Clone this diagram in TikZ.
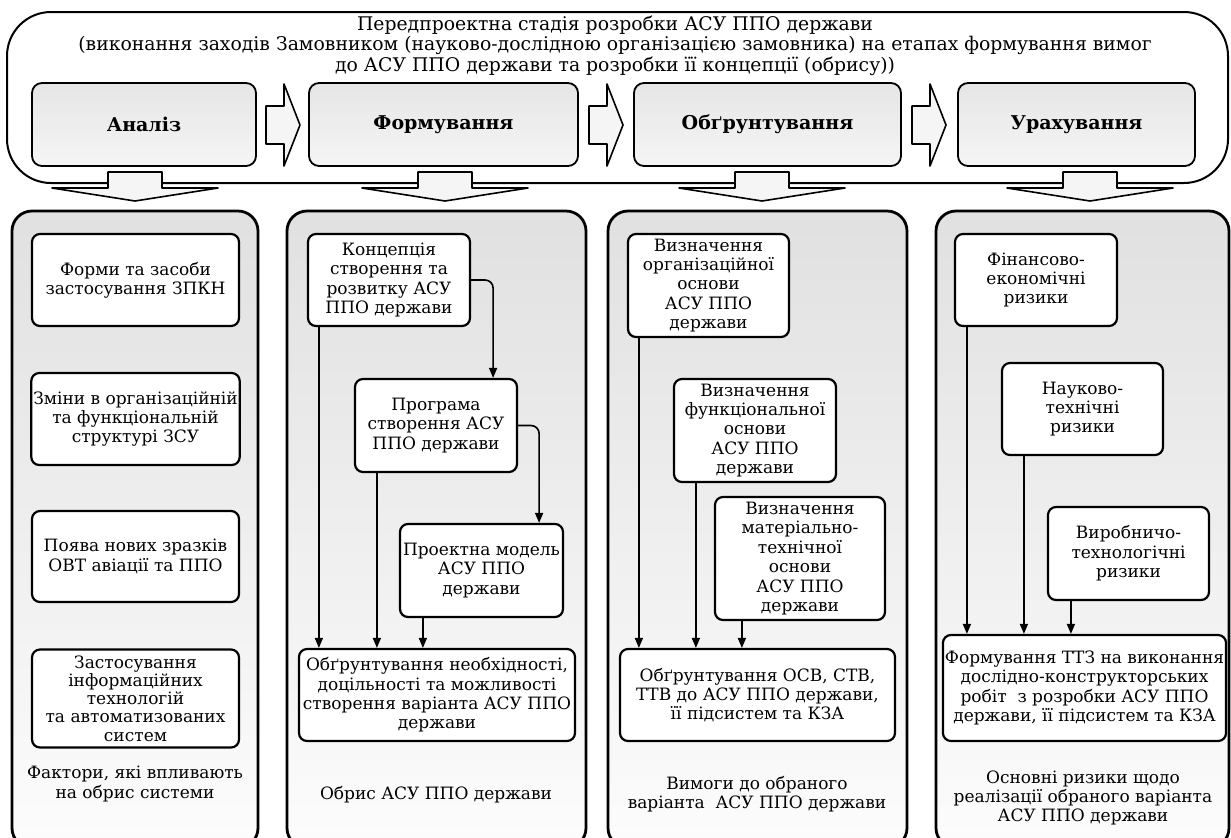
\documentclass[tikz,border=0pt]{standalone}
\usepackage{fontspec}
\setmainfont{DejaVu Serif}
\usetikzlibrary{arrows.meta}
\begin{document}
\begin{tikzpicture}[x=0.5pt, y=-0.5pt, line join=round, >={Triangle[length=5pt,width=4pt]},
		font=\fontsize{8.5}{9.7}\selectfont,
		wbox/.style={draw, line width=1.1pt, rounded corners=4pt, fill=white, align=center, inner sep=1pt},
		stage/.style={draw, line width=0.9pt, rounded corners=5pt, top color=black!10, bottom color=black!4, align=center, minimum height=41.5pt, font=\fontsize{9.5}{12}\selectfont\bfseries},
		panel/.style={draw, line width=1.4pt, rounded corners=10pt, top color=black!12, bottom color=black!1},
		blk/.style={draw, line width=0.8pt, fill=black!4},
		arr/.style={->, line width=0.8pt},
		capt/.style={align=center}]
	\useasboundingbox (0,0) rectangle (1231,837);
	\fill[white] (0,0) rectangle (1231,837);
	% верхній блок
	\draw[line width=1pt, rounded corners=22pt] (7,12) rectangle (1228,183);
	\node[capt, font=\fontsize{9.4}{9}\selectfont] (title) at (615,46) {Передпроектна стадія розробки АСУ ППО держави\\(виконання заходів Замовником (науково-дослідною організацією замовника) на етапах формування вимог\\до АСУ ППО держави та розробки її концепції (обрису))};
	\node[stage, minimum width=112pt] (s1) at (144,124.5) {Аналіз};
	\node[stage, minimum width=134.5pt] (s2) at (443.5,124.5) {Формування};
	\node[stage, minimum width=133.5pt] (s3) at (767.5,124.5) {Обґрунтування};
	\node[stage, minimum width=118.5pt] (s4) at (1076.5,124.5) {Урахування};
	% стрілки
	\draw[blk] (266,106) -- ++(18,0) -- ++(0,-22) -- ++(16,41) -- ++(-16,41) -- ++(0,-22) -- ++(-18,0) -- cycle;
	\draw[blk] (589,106) -- ++(18,0) -- ++(0,-22) -- ++(16,41) -- ++(-16,41) -- ++(0,-22) -- ++(-18,0) -- cycle;
	\draw[blk] (912,106) -- ++(18,0) -- ++(0,-22) -- ++(16,41) -- ++(-16,41) -- ++(0,-22) -- ++(-18,0) -- cycle;
	\draw[blk] (108,172) -- ++(54,0) -- ++(0,16) -- ++(56,0) -- ++(-83,13) -- ++(-83,-13) -- ++(56,0) -- cycle;
	\draw[blk] (418,172) -- ++(54,0) -- ++(0,16) -- ++(56,0) -- ++(-83,13) -- ++(-83,-13) -- ++(56,0) -- cycle;
	\draw[blk] (735,172) -- ++(54,0) -- ++(0,16) -- ++(56,0) -- ++(-83,13) -- ++(-83,-13) -- ++(56,0) -- cycle;
	\draw[blk] (1063,172) -- ++(54,0) -- ++(0,16) -- ++(56,0) -- ++(-83,13) -- ++(-83,-13) -- ++(56,0) -- cycle;
	% панелі
	\draw[panel] (12,211) rectangle (258,848);
	\draw[panel] (287,211) rectangle (586,848);
	\draw[panel] (608,211) rectangle (907,848);
	\draw[panel] (936,211) rectangle (1229,848);
	% фактори
	\node[wbox, minimum width=103.5pt, minimum height=46pt] (f1) at (135.5,280) {Форми та засоби\\застосування ЗПКН};
	\node[wbox, minimum width=103.5pt, minimum height=46pt] (f2) at (135.5,419) {Зміни в організаційній\\та функціональній\\структурі ЗСУ};
	\node[wbox, minimum width=103.5pt, minimum height=45.5pt] (f3) at (135.5,556.5) {Поява нових зразків\\ОВТ авіації та ППО};
	\node[wbox, minimum width=103.5pt, minimum height=49pt, font=\fontsize{8.5}{9.1}\selectfont] (f4) at (135.5,698.5) {Застосування\\інформаційних\\технологій\\та автоматизованих\\систем};
	\node[capt] (cap1) at (135,784) {Фактори, які впливають\\на обрис системи};
	% обрис
	\node[wbox, minimum width=81pt, minimum height=46pt] (k1) at (389,280) {Концепція\\створення та\\розвитку АСУ\\ППО держави};
	\node[wbox, minimum width=81pt, minimum height=46.5pt] (k2) at (436,425.5) {Програма\\створення АСУ\\ППО держави};
	\node[wbox, minimum width=81.5pt, minimum height=46.5pt] (k3) at (481.5,570.5) {Проектна модель\\АСУ ППО\\держави};
	\node[wbox, minimum width=138pt, minimum height=46pt] (k4) at (437,695) {Обґрунтування необхідності,\\доцільності та можливості\\створення варіанта АСУ ППО\\держави};
	\node[capt] (cap2) at (436,795) {Обрис АСУ ППО держави};
	\draw[arr, rounded corners=4pt] (k1.east) -| ([xshift=-12.5pt]k2.north east);
	\draw[arr, rounded corners=4pt] (k2.east) -| ([xshift=-12.5pt]k3.north east);
	\draw[arr] ([xshift=6pt]k1.south west) -- ([xshift=6pt]k1.south west |- k4.north);
	\draw[arr] ([xshift=11.5pt]k2.south west) -- ([xshift=11.5pt]k2.south west |- k4.north);
	\draw[arr] ([xshift=12pt]k3.south west) -- ([xshift=12pt]k3.south west |- k4.north);
	% вимоги
	\node[wbox, minimum width=80.5pt, minimum height=51.5pt] (v1) at (708.5,285.5) {Визначення\\організаційної\\основи\\АСУ ППО\\держави};
	\node[wbox, minimum width=81pt, minimum height=51.5pt] (v2) at (755,430.5) {Визначення\\функціональної\\основи\\АСУ ППО\\держави};
	\node[wbox, minimum width=85pt, minimum height=61.5pt] (v3) at (800,558.5) {Визначення\\матеріально-\\технічної\\основи\\АСУ ППО\\держави};
	\node[wbox, minimum width=137.5pt, minimum height=46pt] (v4) at (757.5,695) {Обґрунтування ОСВ, СТВ,\\ТТВ до АСУ ППО держави,\\її підсистем та КЗА};
	\node[capt] (cap3) at (757,794) {Вимоги до обраного\\варіанта\ \ АСУ ППО держави};
	\draw[arr] ([xshift=6pt]v1.south west) -- ([xshift=6pt]v1.south west |- v4.north);
	\draw[arr] ([xshift=11.5pt]v2.south west) -- ([xshift=11.5pt]v2.south west |- v4.north);
	\draw[arr] ([xshift=14pt]v3.south west) -- ([xshift=14pt]v3.south west |- v4.north);
	% ризики
	\node[wbox, minimum width=81pt, minimum height=46pt] (r1) at (1036,280) {Фінансово-\\економічні\\ризики};
	\node[wbox, minimum width=80.5pt, minimum height=46pt] (r2) at (1082.5,409) {Науково-\\технічні\\ризики};
	\node[wbox, minimum width=80.5pt, minimum height=46.5pt] (r3) at (1128.5,553.5) {Виробничо-\\технологічні\\ризики};
	\node[wbox, minimum width=137.5pt, minimum height=53pt] (r4) at (1084.5,688) {Формування ТТЗ на виконання\\дослідно-конструкторських\\робіт\ \ з розробки АСУ ППО\\держави, її підсистем та КЗА};
	\node[capt] (cap4) at (1083,798) {Основні ризики щодо\\реалізації обраного варіанта\\АСУ ППО держави};
	\draw[arr] ([xshift=6.5pt]r1.south west) -- ([xshift=6.5pt]r1.south west |- r4.north);
	\draw[arr] ([xshift=11.5pt]r2.south west) -- ([xshift=11.5pt]r2.south west |- r4.north);
	\draw[arr] ([xshift=12pt]r3.south west) -- ([xshift=12pt]r3.south west |- r4.north);
\end{tikzpicture}
\end{document}
